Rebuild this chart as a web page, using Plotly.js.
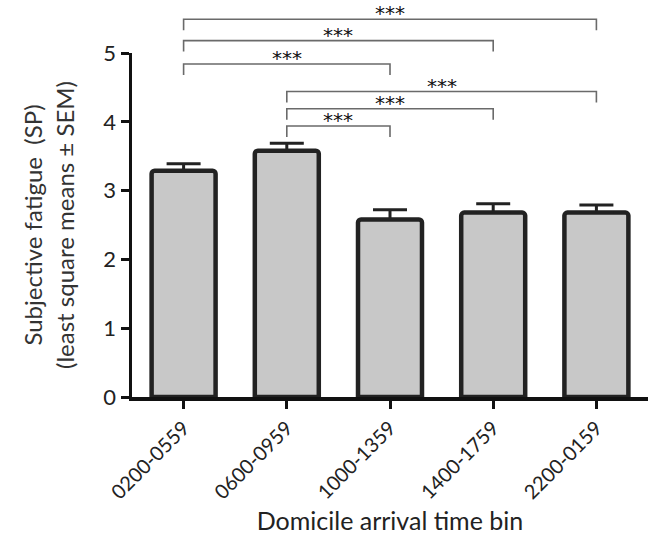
<!DOCTYPE html>
<html>
<head>
<meta charset="utf-8">
<script src="https://cdn.plot.ly/plotly-3.0.1.min.js"></script>
<style>html,body{margin:0;padding:0;background:#fff;}#chart{width:652px;height:544px;}</style>
</head>
<body>
<div id="chart"></div>
<script>
// ---- data ----
var categories = ["0200-0559", "0600-0959", "1000-1359", "1400-1759", "2200-0159"];
var means = [3.29, 3.58, 2.58, 2.68, 2.68];
var sem = [0.10, 0.11, 0.14, 0.13, 0.11];
// significance comparisons: [from index, to index, bracket height (y units), label]
var compFrom = [0, 0, 0, 1, 1, 1];
var compTo = [4, 3, 2, 4, 3, 2];
var compHeight = [5.49, 5.18, 4.84, 4.44, 4.19, 3.94];
var compLabel = ["***", "***", "***", "***", "***", "***"];

var yMax = 5;
var drop = 0.16;

var shapes = [];
var annotations = [];
for (var i = 0; i < compFrom.length; i++) {
  var h = compHeight[i] / yMax, hb = (compHeight[i] - drop) / yMax;
  var x0 = compFrom[i], x1 = compTo[i];
  shapes.push({type: 'path', xref: 'x', yref: 'paper',
    path: 'M ' + x0 + ',' + hb + ' L ' + x0 + ',' + h + ' L ' + x1 + ',' + h + ' L ' + x1 + ',' + hb,
    line: {color: '#6a6a6a', width: 1.6}});
  annotations.push({xref: 'x', yref: 'paper', x: (x0 + x1) / 2, y: h, text: compLabel[i],
    showarrow: false, yanchor: 'bottom', yshift: -8,
    font: {family: '"DejaVu Sans", sans-serif', size: 20, color: '#111'}});
}

var trace = {
  type: 'bar', x: categories, y: means, width: 0.62,
  marker: {color: '#c8c8c8', line: {color: '#222', width: 4.5}, cornerradius: 3},
  error_y: {type: 'data', array: sem, arrayminus: sem.map(function(){return 0;}),
    symmetric: false, color: '#222', thickness: 3, width: 17}
};

var layout = {
  width: 652, height: 544,
  margin: {l: 132, r: 4, t: 53, b: 147},
  paper_bgcolor: '#fff', plot_bgcolor: '#fff',
  showlegend: false,
  font: {family: 'Lato, "DejaVu Sans", sans-serif', color: '#222'},
  xaxis: {
    type: 'category', range: [-0.5, 4.5], showline: true, linecolor: '#111', linewidth: 3.5,
    ticks: 'outside', ticklen: 8, tickwidth: 3, tickcolor: '#111',
    tickangle: -45, tickfont: {size: 20, color: '#222'}, showgrid: false, zeroline: false,
    title: {text: 'Domicile arrival time bin', font: {size: 25, color: '#222'}, standoff: 11}
  },
  yaxis: {
    range: [0, yMax], tickvals: [0, 1, 2, 3, 4, 5], showline: true, linecolor: '#111', linewidth: 3.5,
    ticks: 'outside', ticklen: 8, tickwidth: 3, tickcolor: '#111',
    tickfont: {size: 22, color: '#222'}, showgrid: false, zeroline: false,
    title: {text: 'Subjective fatigue  (SP)<br>(least square means \u00b1 SEM)', font: {size: 24, color: '#333'}, standoff: 23}
  },
  shapes: shapes,
  annotations: annotations
};

Plotly.newPlot('chart', [trace], layout, {displayModeBar: false, staticPlot: true});
</script>
</body>
</html>
